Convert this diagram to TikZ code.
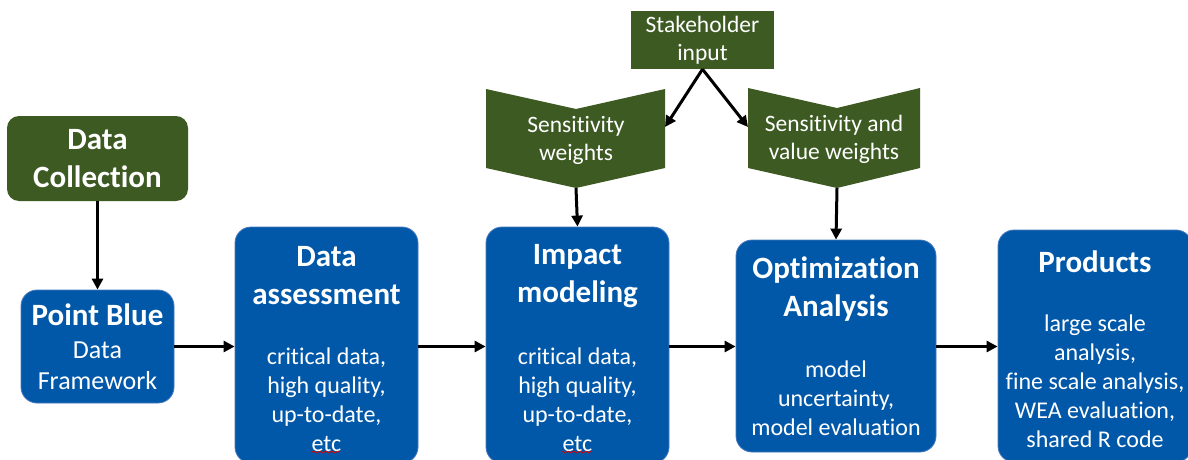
\documentclass[tikz,border=0pt]{standalone}
\usepackage{fontspec}
\setmainfont{Carlito}[Ligatures=NoCommon]
\usetikzlibrary{arrows.meta,decorations.pathmorphing}
\definecolor{pbblue}{RGB}{1,88,168}
\definecolor{pbborder}{RGB}{70,120,190}
\definecolor{pbgreen}{RGB}{61,90,35}
\begin{document}
\begin{tikzpicture}[x=1pt,y=-1pt,
  bluebox/.style={draw=pbborder,line width=0.8pt,fill=pbblue,rounded corners=16pt,inner sep=0pt},
  greenbox/.style={fill=pbgreen,rounded corners=12pt,inner sep=0pt},
  titletext/.style={text=white,align=center,font=\fontsize{31}{38}\selectfont\bfseries,inner sep=0pt},
  bodytext/.style={text=white,align=center,font=\fontsize{24}{29}\selectfont,inner sep=0pt},
  chevtext/.style={text=white,align=center,font=\fontsize{23.5}{28}\selectfont,inner sep=0pt},
  flow/.style={line width=3pt,-{Triangle[length=11pt,width=11pt]}},
  squiggle/.style={draw=red!85!black,line width=0.6pt,decorate,decoration={snake,amplitude=0.9pt,segment length=3pt}}
]
\useasboundingbox (0,0) rectangle (1188,460);

% Data Collection
\node[greenbox,minimum width=181pt,minimum height=85pt] (dc) at (97.5,158.5) {};
\node[titletext] (dct) at (97.5,159) {Data\\Collection};

% Point Blue
\node[bluebox,minimum width=153pt,minimum height=113pt] (pb) at (97.5,346.5) {};
\node[titletext] (pbt) at (97.5,315) {Point Blue};
\node[bodytext,font=\fontsize{26}{31}\selectfont] (pbb) at (97.5,366) {Data\\Framework};

% Data assessment
\node[bluebox,minimum width=183pt,minimum height=236pt] (da) at (326.5,345) {};
\node[titletext] (dat) at (326.5,276) {Data\\assessment};
\node[bodytext] (dab) at (326.5,400) {critical data,\\high quality,\\up-to-date,\\etc};

% Impact modeling
\node[bluebox,minimum width=183pt,minimum height=236pt] (im) at (577.5,345) {};
\node[titletext] (imt) at (577.5,276) {Impact\\modeling};
\node[bodytext] (imb) at (577.5,400) {critical data,\\high quality,\\up-to-date,\\etc};

% Optimization Analysis
\node[bluebox,minimum width=200pt,minimum height=212pt] (oa) at (836,346) {};
\node[titletext] (oat) at (836,289) {Optimization\\Analysis};
\node[bodytext] (oab) at (836,398.5) {model\\uncertainty,\\model evaluation};

% Products
\node[bluebox,minimum width=194pt,minimum height=232pt] (pr) at (1095,346) {};
\node[titletext] (prt) at (1095,262) {Products};
\node[bodytext] (prb) at (1095,381) {large scale\\analysis,\\fine scale analysis,\\WEA evaluation,\\shared R code};

% Stakeholder input
\node[fill=pbgreen,minimum width=143pt,minimum height=58pt,inner sep=0pt] (si) at (702.5,40) {};
\node[chevtext] (sit) at (702.5,40) {Stakeholder\\input};

% Chevrons
\fill[pbgreen] (486,89) -- (576,109) -- (665,89) -- (665,168) -- (576,188) -- (486,168) -- cycle;
\coordinate (sw tip) at (576,188);
\coordinate (sw in) at (665,127);
\node[chevtext] (swt) at (576,140.5) {Sensitivity\\weights};

\fill[pbgreen] (748,88) -- (837,108) -- (920,88) -- (920,168) -- (837,188) -- (748,168) -- cycle;
\coordinate (sv tip) at (837,188);
\coordinate (sv in) at (748,127);
\node[chevtext] (svt) at (834,139.5) {Sensitivity and\\value weights};

% Connectors
\draw[flow] (dc.south) -- (pb.north);
\draw[flow] (pb.east) -- (da.west |- pb.east);
\draw[flow] (da.east |- pb.east) -- (im.west |- pb.east);
\draw[flow] (im.east |- pb.east) -- (oa.west |- pb.east);
\draw[flow] (oa.east |- pb.east) -- (pr.west |- pb.east);
\draw[flow] (si.south) -- (sw in);
\draw[flow] (si.south) -- (sv in);
\draw[flow] (sw tip) -- (im.north);
\draw[flow] (sv tip) -- (oa.north);

% spell-check squiggles under "etc"
\draw[squiggle] (311,452) -- (340,452);
\draw[squiggle] (562,452) -- (591,452);
\end{tikzpicture}
\end{document}
